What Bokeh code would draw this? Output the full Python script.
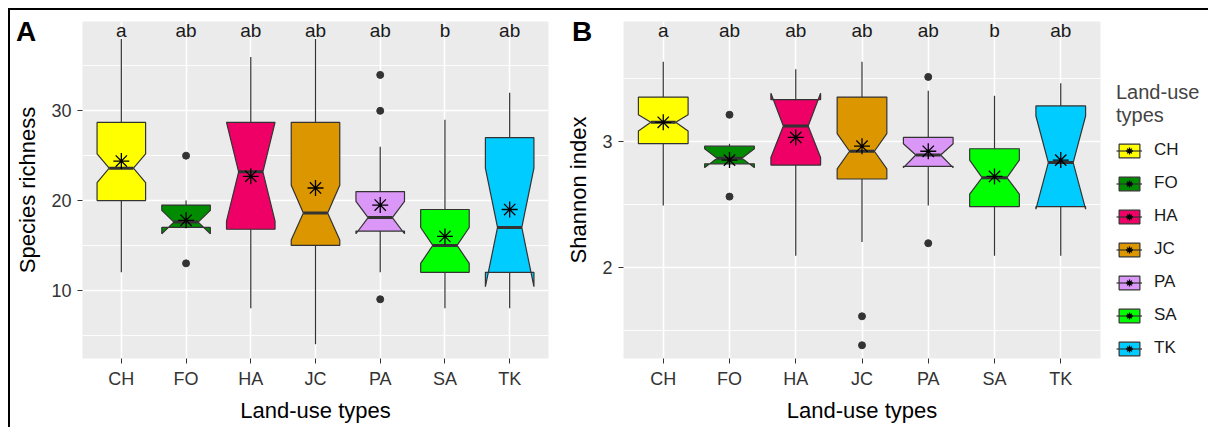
from bokeh.plotting import figure
from bokeh.models import Range1d, FixedTicker, Legend, LegendItem, ColumnDataSource, Div
from bokeh.layouts import row
from bokeh.embed import file_html
from bokeh.resources import INLINE
from bokeh.core.properties import value

# ---------------- data ----------------
cats = ["CH", "FO", "HA", "JC", "PA", "SA", "TK"]
colors = ["#FFFF00", "#008B00", "#EE0066", "#DB9600", "#DA97F7", "#00FF00", "#00CCFF"]
letters = ["a", "ab", "ab", "ab", "ab", "b", "ab"]

# Panel A: species richness
a_lo = [12, 17, 8, 4, 12, 8, 8]
a_q1 = [20, 17.0, 16.8, 15.0, 16.6, 12, 12]
a_med = [23.6, 17.6, 23.2, 18.6, 18.1, 15.0, 17.0]
a_q3 = [28.7, 19.5, 28.7, 28.7, 21.0, 19.0, 27.0]
a_hi = [38, 20, 36, 38, 26, 29, 32]
a_nlo = [22.0, 16.3, 17.7, 15.6, 16.3, 13.0, 10.4]
a_nhi = [25.2, 18.9, 28.7, 21.7, 19.9, 17.0, 23.6]
a_mean = [24.4, 17.8, 22.7, 21.4, 19.5, 16.0, 19.0]
a_out_cat = ["FO", "FO", "PA", "PA", "PA"]
a_out_val = [25, 13, 34, 30, 9]

# Panel B: Shannon index
b_lo = [2.49, 2.82, 2.09, 2.20, 2.49, 2.09, 2.09]
b_q1 = [2.98, 2.82, 2.81, 2.70, 2.80, 2.48, 2.48]
b_med = [3.15, 2.865, 3.12, 2.92, 2.89, 2.71, 2.83]
b_q3 = [3.35, 2.96, 3.33, 3.35, 3.03, 2.94, 3.28]
b_hi = [3.63, 2.98, 3.57, 3.63, 3.40, 3.36, 3.46]
b_nlo = [3.08, 2.79, 2.87, 2.78, 2.79, 2.58, 2.46]
b_nhi = [3.21, 2.94, 3.38, 3.06, 2.98, 2.85, 3.20]
b_mean = [3.15, 2.85, 3.03, 2.96, 2.92, 2.72, 2.85]
b_out_cat = ["FO", "FO", "JC", "JC", "PA", "PA"]
b_out_val = [3.21, 2.56, 1.61, 1.38, 3.51, 2.19]

FONT = "Liberation Sans"
OUT = "#333333"
W_BOX = 0.75
IND = (1 - 0.5) * W_BOX / 2
XS = [i + 1 for i in range(len(cats))]
H = 417


def box_sources(lo, q1, med, q3, hi, nlo, nhi):
    pxs, pys = [], []
    for i, x in enumerate(XS):
        x0, x1 = x - W_BOX / 2, x + W_BOX / 2
        pxs.append([x0, x0, x0 + IND, x0, x0, x1, x1, x1 - IND, x1, x1])
        pys.append([q3[i], nhi[i], med[i], nlo[i], q1[i], q1[i], nlo[i], med[i], nhi[i], q3[i]])
    bsrc = ColumnDataSource(dict(xs=pxs, ys=pys, color=colors))
    wsrc = ColumnDataSource(dict(x=XS + XS, y0=q3 + q1, y1=hi + lo))
    msrc = ColumnDataSource(dict(x0=[x - W_BOX / 2 + IND for x in XS],
                                 x1=[x + W_BOX / 2 - IND for x in XS], y=med))
    return bsrc, wsrc, msrc


def make_panel(ylabel, lo, q1, med, q3, hi, nlo, nhi, mean, out_cat, out_val,
               yr, majors, minors, width, border_left, border_right):
    p = figure(width=width, height=H, output_backend="svg", toolbar_location=None,
               x_range=Range1d(0.4, 7.6), y_range=Range1d(*yr),
               min_border_left=border_left, min_border_right=border_right,
               min_border_top=11, min_border_bottom=69)
    p.background_fill_color = "#EBEBEB"
    p.border_fill_color = "white"
    p.outline_line_color = None

    bsrc, wsrc, msrc = box_sources(lo, q1, med, q3, hi, nlo, nhi)
    p.segment(x0="x", y0="y0", x1="x", y1="y1", source=wsrc, line_color=OUT, line_width=1.2)
    p.patches(xs="xs", ys="ys", source=bsrc, fill_color="color", line_color=OUT, line_width=1.2)
    p.segment(x0="x0", y0="y", x1="x1", y1="y", source=msrc, line_color=OUT, line_width=3)

    ox = [cats.index(c) + 1 for c in out_cat]
    p.scatter(ox, out_val, size=7, color=OUT)
    p.scatter(XS, mean, marker="asterisk", size=16, line_color="black", line_width=1.3)

    ytop = yr[1] - 0.027 * (yr[1] - yr[0])
    p.text(XS, [ytop] * len(XS), text=letters, text_align="center", text_baseline="middle",
           text_font=value(FONT), text_font_size="19px", text_color="#1a1a1a")

    p.xaxis.ticker = FixedTicker(ticks=XS)
    p.xaxis.major_label_overrides = {x: c for x, c in zip(XS, cats)}
    p.yaxis.ticker = FixedTicker(ticks=majors, minor_ticks=minors)
    p.xgrid.ticker = FixedTicker(ticks=XS)
    p.ygrid.ticker = FixedTicker(ticks=majors, minor_ticks=minors)
    for g in (p.xgrid, p.ygrid):
        g.grid_line_color = "white"
        g.grid_line_width = 1.6
    p.ygrid.minor_grid_line_color = "white"
    p.ygrid.minor_grid_line_width = 0.9

    for ax in (p.xaxis, p.yaxis):
        ax.axis_line_color = None
        ax.major_tick_line_color = OUT
        ax.major_tick_out = 5
        ax.major_tick_in = 0
        ax.minor_tick_line_color = None
        ax.major_label_text_font = FONT
        ax.major_label_text_font_size = "18px"
        ax.major_label_text_color = "#333333"
        ax.axis_label_text_font = FONT
        ax.axis_label_text_font_size = "22px"
        ax.axis_label_text_font_style = "normal"
        ax.axis_label_text_color = "black"
    p.xaxis.axis_label = "Land-use types"
    p.yaxis.axis_label = ylabel
    p.xaxis.major_label_standoff = 5
    p.xaxis.axis_label_standoff = 6
    p.yaxis.major_label_standoff = 6
    p.yaxis.axis_label_standoff = 8
    return p


pa = make_panel("Species richness", a_lo, a_q1, a_med, a_q3, a_hi, a_nlo, a_nhi, a_mean,
                a_out_cat, a_out_val, (2.4, 39.95), [10, 20, 30], [5, 15, 25, 35],
                550, 72, 12)
pb = make_panel("Shannon index", b_lo, b_q1, b_med, b_q3, b_hi, b_nlo, b_nhi, b_mean,
                b_out_cat, b_out_val, (1.275, 3.95), [2, 3], [1.5, 2.5, 3.5],
                542, 63, 2)

# legend figure (keys drawn by Bokeh's legend from hidden copies of the box glyphs)
pl = figure(width=106, height=H, output_backend="svg", toolbar_location=None,
            x_range=Range1d(0.4, 7.6), y_range=Range1d(1.275, 3.95),
            min_border_left=0, min_border_right=0, min_border_top=0, min_border_bottom=0)
pl.axis.visible = False
pl.grid.visible = False
pl.outline_line_color = None
pl.background_fill_color = "white"
lb, lw, _ = box_sources(b_lo, b_q1, b_med, b_q3, b_hi, b_nlo, b_nhi)
r_box = pl.patches(xs="xs", ys="ys", source=lb, fill_color="color", line_color=OUT, line_width=1.2)
r_wh = pl.segment(x0="x", y0="y0", x1="x", y1="y1", source=lw, line_color=OUT, line_width=1.2)
r_st = pl.scatter(XS, b_mean, marker="asterisk", size=15, line_color="black", line_width=1.3)
for r in (r_box, r_wh, r_st):
    r.visible = False
items = [LegendItem(label=c, renderers=[r_box, r_wh, r_st], index=i) for i, c in enumerate(cats)]
lg = Legend(items=items, location=(14, 0), title="Land-use\ntypes",
            title_text_font=FONT, title_text_font_size="20px", title_text_font_style="normal",
            title_standoff=13, label_text_font=FONT, label_text_font_size="17px",
            label_text_color="#1a1a1a",
            glyph_width=26, glyph_height=17, label_height=20, spacing=13,
            label_standoff=12, padding=0, margin=0,
            inactive_fill_alpha=0, border_line_color=None, background_fill_alpha=0)
pl.add_layout(lg, "center")

tag_style = {"position": "absolute", "font-family": "Liberation Sans", "font-size": "28px",
             "font-weight": "bold", "color": "black", "line-height": "1.15"}
div_a = Div(text="A", styles=dict(tag_style, left="1px", top="1px"))
div_b = Div(text="B", styles=dict(tag_style, left="557px", top="1px"))

layout = row(pa, pb, pl, div_a, div_b, margin=(8, 0, 0, 8),
             styles={"border-top": "2px solid black", "border-left": "2px solid black"})

open("out.html", "w").write(file_html(layout, INLINE))
